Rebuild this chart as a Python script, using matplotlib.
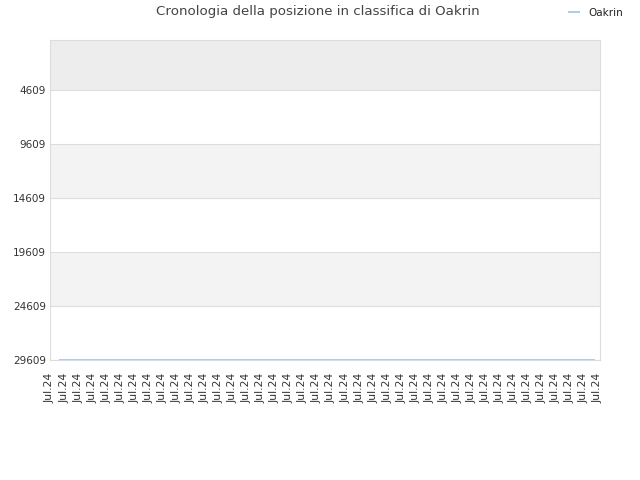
import matplotlib
matplotlib.use("Agg")
import matplotlib.pyplot as plt
import numpy as np

title = "Cronologia della posizione in classifica di Oakrin"
series_name = "Oakrin"
date_labels = ["Jul.24"] * 40
ranks = [29590] * 40
y_ticks = [4609, 9609, 14609, 19609, 24609, 29609]

fig = plt.figure(figsize=(6.4, 4.8), dpi=100)
ax = fig.add_axes([50/640, 1-360/480, 550/640, 320/480])

y_top = -20
y_bottom = 29609
ax.set_ylim(y_bottom, y_top)
n = len(date_labels)
ax.set_xlim(0, n - 1 + 0.15)

# bands
edges = [y_top] + y_ticks
for i in range(len(edges) - 1):
    if i == 0:
        c = "#ededed"
    elif i % 2 == 0:
        c = "#f3f3f3"
    else:
        c = "#ffffff"
    ax.axhspan(edges[i], edges[i+1], color=c, zorder=0, lw=0)
for t in y_ticks:
    ax.axhline(t, color="#dddddd", lw=0.8, zorder=1)

x_line = np.linspace(0.7, n - 1.25, len(ranks))
ax.plot(x_line, ranks, color="#a8cdef", lw=1.4, zorder=3, label=series_name)

ax.set_yticks(y_ticks)
ax.set_yticklabels([str(t) for t in y_ticks], fontsize=7.5, color="#333333")
ax.set_xticks(np.arange(n))
ax.set_xticklabels(date_labels, rotation=90, fontsize=7.8, color="#333333")
ax.tick_params(axis="y", length=0, pad=3)
ax.tick_params(axis="x", length=0, pad=9)
for s in ax.spines.values():
    s.set_color("#dddddd")
    s.set_linewidth(0.8)

fig.text(318/640, 1-12/480, title, ha="center", va="center", fontsize=9.6, color="#444444")
leg = fig.legend(loc="center", bbox_to_anchor=(596/640, 1-13/480), frameon=False,
                 fontsize=7.5, handlelength=1.0, handletextpad=0.9)
for t in leg.get_texts():
    t.set_color("#222222")

fig.savefig("out.png", dpi=100)
